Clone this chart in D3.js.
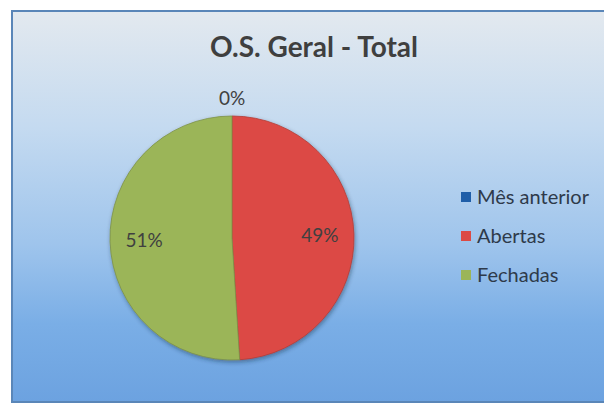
<!DOCTYPE html>
<html>
<head>
<meta charset="utf-8">
<script src="https://d3js.org/d3.v7.min.js"></script>
<style>
    body { margin: 0; background: #fff; }
    text { font-family: Lato, "Open Sans", sans-serif; }
</style>
</head>
<body>
<svg id="chart"></svg>
<script>
    var categories = ["Mês anterior", "Abertas", "Fechadas"];
    var values = [0, 49, 51];
    var labels = ["0%", "49%", "51%"];
    var colors = ["#1f5ea8", "#dc4a44", "#9bb558"];

    var width = 604, height = 404;
    var cx = 232, cy = 238, radius = 122;

    var svg = d3.select("#chart")
        .attr("width", width)
        .attr("height", height);

    var defs = svg.append("defs");
    var grad = defs.append("linearGradient")
        .attr("id", "bg")
        .attr("x1", 0).attr("y1", 0).attr("x2", 0).attr("y2", 1);
    grad.append("stop").attr("offset", "0%").attr("stop-color", "#e3e9ef");
    grad.append("stop").attr("offset", "30%").attr("stop-color", "#c4daf0");
    grad.append("stop").attr("offset", "60%").attr("stop-color", "#9ec4ec");
    grad.append("stop").attr("offset", "80%").attr("stop-color", "#7aaee6");
    grad.append("stop").attr("offset", "100%").attr("stop-color", "#6ca2e0");

    var shadow = defs.append("filter").attr("id", "shadow")
        .attr("x", "-10%").attr("y", "-10%").attr("width", "120%").attr("height", "120%");
    shadow.append("feDropShadow")
        .attr("dx", 1).attr("dy", 2).attr("stdDeviation", 2)
        .attr("flood-color", "#1a2a40").attr("flood-opacity", 0.45);

    // chart area
    svg.append("rect")
        .attr("x", 12).attr("y", 11)
        .attr("width", 620).attr("height", 391)
        .attr("fill", "url(#bg)")
        .attr("stroke", "#5a86b8")
        .attr("stroke-width", 2);

    svg.append("text")
        .attr("x", 314).attr("y", 57)
        .attr("text-anchor", "middle")
        .attr("font-size", 28)
        .attr("font-weight", "bold")
        .attr("fill", "#3f3f3f")
        .text("O.S. Geral - Total");

    var pie = d3.pie().sort(null).value(d => d);
    var arcs = pie(values);
    var arc = d3.arc().innerRadius(0).outerRadius(radius);
    var labelArc = d3.arc().innerRadius(radius * 0.72).outerRadius(radius * 0.72);
    var outerArc = d3.arc().innerRadius(radius + 18).outerRadius(radius + 18);

    var g = svg.append("g").attr("transform", "translate(" + cx + "," + cy + ")");

    g.append("g")
        .attr("filter", "url(#shadow)")
        .selectAll("path")
        .data(arcs)
        .enter()
        .append("path")
        .attr("d", arc)
        .attr("fill", (d, i) => colors[i])
        .attr("stroke", (d, i) => d3.color(colors[i]).darker(0.6))
        .attr("stroke-width", 0.8);

    g.selectAll(".lbl")
        .data(arcs)
        .enter()
        .append("text")
        .attr("class", "lbl")
        .attr("transform", d => "translate(" + (d.value === 0 ? outerArc.centroid(d) : labelArc.centroid(d)) + ")")
        .attr("text-anchor", "middle")
        .attr("dy", "0.35em")
        .attr("font-size", 19)
        .attr("fill", "#404040")
        .text((d, i) => labels[i]);

    // legend
    var legend = svg.append("g").attr("transform", "translate(461,197)");
    var item = legend.selectAll("g")
        .data(categories)
        .enter()
        .append("g")
        .attr("transform", (d, i) => "translate(0," + i * 39 + ")");
    item.append("rect")
        .attr("x", 0).attr("y", -5)
        .attr("width", 10).attr("height", 10)
        .attr("fill", (d, i) => colors[i]);
    item.append("text")
        .attr("x", 16).attr("dy", "0.35em")
        .attr("font-size", 20)
        .attr("fill", "#2e3a4a")
        .text(d => d);
</script>
</body>
</html>
